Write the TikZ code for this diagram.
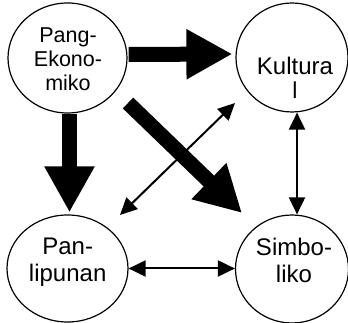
\documentclass[tikz,border=0pt]{standalone}
\usepackage{fontspec}
\setmainfont{Liberation Sans}
\usetikzlibrary{shapes.geometric,arrows.meta,calc}
\tikzset{
  circ/.style={draw, ellipse, line width=1.2pt, inner sep=0pt},
  txt/.style={inner sep=0pt, anchor=north, align=center},
  bigfont/.style={font=\fontsize{24}{27}\selectfont},
  bigarr/.style={line width=15pt, -{Triangle[length=46pt,width=47pt]}},
  thinarr/.style={line width=2pt, {Triangle[length=17pt,width=16pt]}-{Triangle[length=17pt,width=16pt]}}
}
\begin{document}
\begin{tikzpicture}[x=1pt,y=1pt]
\useasboundingbox (0,0) rectangle (348,323);
% ellipses
\node[circ, minimum width=119pt, minimum height=110pt] (pe) at (67.5,265) {};
\node[circ, minimum width=112pt, minimum height=109pt] (ku) at (292,265.5) {};
\node[circ, minimum width=121pt, minimum height=107pt] (pl) at (67.5,54.5) {};
\node[circ, minimum width=113pt, minimum height=108pt] (sb) at (292,54) {};
% texts
\node[txt, font=\fontsize{21.5}{24}\selectfont] (pet) at (68,295.7) {Pang-\\Ekono-\\miko};
\node[txt, font=\fontsize{24}{25}\selectfont] (kut) at (295,266.3) {Kultura\\[-1pt]{\fontsize{23}{25}\selectfont l}};
\node[txt, bigfont] (plt) at (67.7,85) {Pan-\\lipunan};
\node[txt, bigfont] (sbt) at (294,84.7) {Simbo-\\liko};
% big arrows
\draw[bigarr, shorten <=1pt, shorten >=3pt] ([yshift=3.5pt]pe.east) -- ([yshift=3.5pt]ku.west);
\draw[bigarr, shorten >=2pt] ([xshift=2pt]pe.south) -- ([xshift=2pt]pl.north);
\draw[bigarr] ($(pe.center)+(60.5,-45)$) -- ($(sb.center)+(-50,56)$);
% thin arrows
\draw[thinarr] ($(ku.center)+(-57,-45.5)$) -- ($(pl.center)+(52.5,53.5)$);
\draw[thinarr] ([xshift=5pt]ku.south) -- ([xshift=5pt]sb.north);
\draw[thinarr] (pl.east) -- (pl.east -| sb.west);
\end{tikzpicture}
\end{document}
